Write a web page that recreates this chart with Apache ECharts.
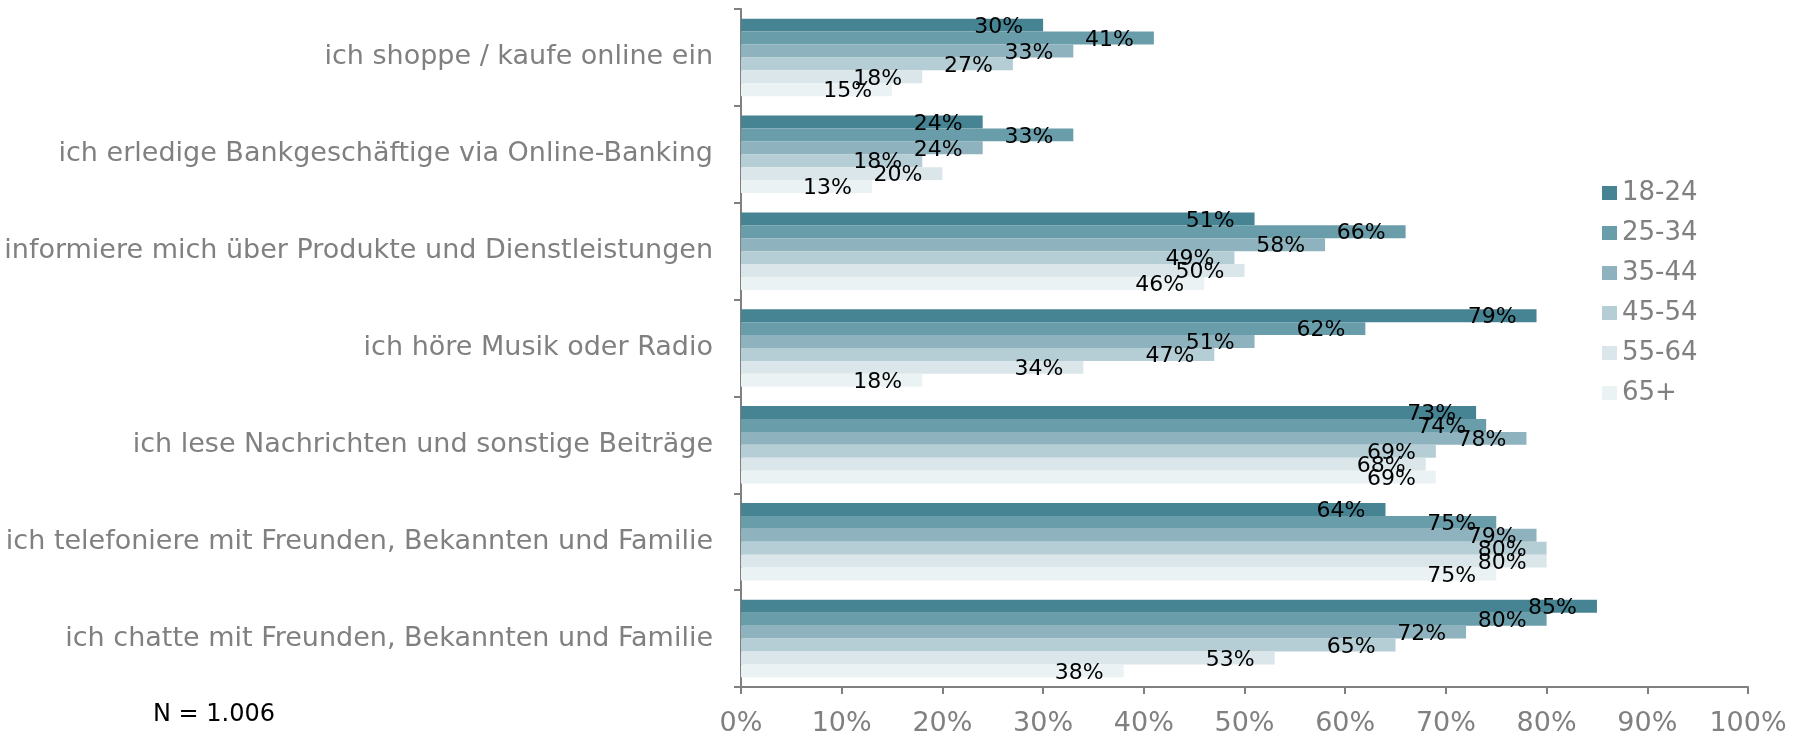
<!DOCTYPE html>
<html>
<head>
<meta charset="utf-8">
<script src="https://cdn.jsdelivr.net/npm/echarts@6/dist/echarts.min.js"></script>
<style>
html,body{margin:0;padding:0;background:#fff;}
#main{width:1804px;height:735px;}
</style>
</head>
<body>
<div id="main"></div>
<script>
const categories = [
  "ich shoppe / kaufe online ein",
  "ich erledige Bankgeschäftige via Online-Banking",
  "ich informiere mich über Produkte und Dienstleistungen",
  "ich höre Musik oder Radio",
  "ich lese Nachrichten und sonstige Beiträge",
  "ich telefoniere mit Freunden, Bekannten und Familie",
  "ich chatte mit Freunden, Bekannten und Familie"
];
const seriesNames = ["18-24", "25-34", "35-44", "45-54", "55-64", "65+"];
const v18_24 = [30, 24, 51, 79, 73, 64, 85];
const v25_34 = [41, 33, 66, 62, 74, 75, 80];
const v35_44 = [33, 24, 58, 51, 78, 79, 72];
const v45_54 = [27, 18, 49, 47, 69, 80, 65];
const v55_64 = [18, 20, 50, 34, 68, 80, 53];
const v65p   = [15, 13, 46, 18, 69, 75, 38];
const xTicks = [0, 10, 20, 30, 40, 50, 60, 70, 80, 90, 100];
const noteText = "N = 1.006";

const colors = ["#468393", "#6A9DAA", "#8FB3BE", "#B5CED5", "#DBE6EA", "#EAF2F3"];
const allValues = [v18_24, v25_34, v35_44, v45_54, v55_64, v65p];
const FONT = "Verdana, 'DejaVu Sans', sans-serif";

const chart = echarts.init(document.getElementById('main'), null, {renderer: 'canvas'});
chart.setOption({
  animation: false,
  textStyle: {fontFamily: FONT},
  grid: {left: 741, right: 56, top: 9, bottom: 48, containLabel: false, outerBoundsMode: 'none'},
  legend: {
    orient: 'vertical',
    left: 1597,
    top: 175,
    itemWidth: 15,
    itemHeight: 14,
    itemGap: 14,
    icon: 'rect',
    data: seriesNames,
    textStyle: {color: '#808080', fontSize: 26, fontFamily: FONT, lineHeight: 26}
  },
  xAxis: {
    type: 'value',
    min: xTicks[0],
    max: xTicks[xTicks.length - 1],
    interval: 10,
    splitLine: {show: false},
    axisLine: {show: true, lineStyle: {color: '#808080', width: 2}},
    axisTick: {show: true, length: 7, lineStyle: {color: '#808080', width: 2}},
    axisLabel: {color: '#808080', fontSize: 27, margin: 23, fontFamily: FONT, formatter: v => v + '%'}
  },
  yAxis: {
    type: 'category',
    inverse: true,
    data: categories,
    axisLine: {show: true, lineStyle: {color: '#808080', width: 2}},
    axisTick: {show: true, length: 7, inside: false, lineStyle: {color: '#808080', width: 2}},
    axisLabel: {color: '#808080', fontSize: 27, margin: 28, fontFamily: FONT}
  },
  graphic: [{
    type: 'text',
    left: 153,
    top: 703,
    style: {text: noteText, fill: '#000', fontSize: 24, fontFamily: FONT}
  }],
  series: seriesNames.map((name, i) => ({
    name: name,
    type: 'bar',
    data: allValues[i],
    barGap: '0%',
    barCategoryGap: '20%',
    itemStyle: {color: colors[i]},
    label: {
      show: true,
      position: 'insideRight',
      distance: 20,
      offset: [0, 2],
      color: '#000',
      fontSize: 22,
      fontFamily: FONT,
      formatter: p => p.value + '%'
    }
  }))
});
</script>
</body>
</html>
